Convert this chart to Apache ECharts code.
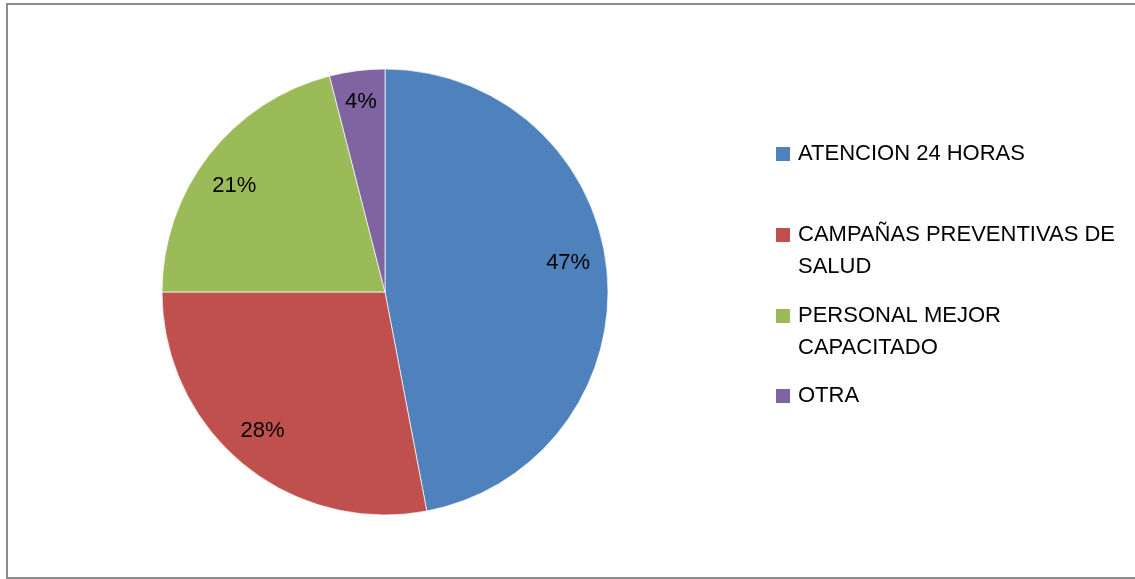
<!DOCTYPE html>
<html>
<head>
<meta charset="utf-8">
<script src="https://cdn.jsdelivr.net/npm/echarts@6/dist/echarts.min.js"></script>
<style>
html,body{margin:0;padding:0;background:#fff;}
#chart{width:1135px;height:579px;}
</style>
</head>
<body>
<div id="chart"></div>
<script>
const categories = ['ATENCION 24 HORAS', 'CAMPAÑAS PREVENTIVAS DE SALUD', 'PERSONAL MEJOR CAPACITADO', 'OTRA'];
const legendLines = ['ATENCION 24 HORAS', 'CAMPAÑAS PREVENTIVAS DE\nSALUD', 'PERSONAL MEJOR\nCAPACITADO', 'OTRA'];
const values = [47, 28, 21, 4];
const colors = ['#4F81BD', '#C0504D', '#9BBB59', '#8064A2'];

const FONT = 'Liberation Sans';
const labelShift = [[-8, -11], [0, -9], [1, 12], [0, 0]];
const legendTops = [138, 219, 300, 380];

const chart = echarts.init(document.getElementById('chart'), null, {renderer: 'canvas'});

const legends = categories.map((name, i) => {
  const two = legendLines[i].indexOf('\n') >= 0;
  return {
    show: true,
    orient: 'vertical',
    left: 776,
    top: legendTops[i],
    padding: 0,
    selectedMode: false,
    itemWidth: 14,
    itemHeight: two ? 46 : 14,
    itemStyle: {borderWidth: 0},
    data: [{
      name: name,
      icon: two ? 'path://M0,0H14V14H0Z M0,46L0.01,46' : 'rect'
    }],
    formatter: () => legendLines[i],
    textStyle: {
      fontFamily: FONT,
      fontSize: 22,
      color: '#000',
      lineHeight: 32,
      padding: [0, 0, 0, 3]
    }
  };
});

const option = {
  animation: false,
  backgroundColor: '#fff',
  color: colors,
  legend: legends,
  graphic: [{
    type: 'rect',
    silent: true,
    shape: {x: 7, y: 4, width: 1200, height: 574},
    style: {fill: 'none', stroke: '#8c8c8c', lineWidth: 2},
    z: 100
  }],
  series: [
    {
      type: 'pie',
      name: 'main',
      center: [385, 292],
      radius: [0, 223],
      startAngle: 90,
      clockwise: true,
      silent: true,
      label: {show: false},
      labelLine: {show: false},
      itemStyle: {borderColor: 'rgba(255,255,255,0.7)', borderWidth: 1},
      emphasis: {disabled: true},
      data: categories.map((n, i) => ({name: n, value: values[i]}))
    },
    {
      type: 'pie',
      name: 'labels',
      center: [385, 292],
      radius: [155, 223],
      startAngle: 90,
      clockwise: true,
      silent: true,
      itemStyle: {color: 'rgba(0,0,0,0)', borderWidth: 0},
      emphasis: {disabled: true},
      labelLine: {show: false},
      label: {
        show: true,
        position: 'inside',
        fontFamily: FONT,
        fontSize: 22,
        color: '#000',
        formatter: p => Math.round(p.percent) + '%'
      },
      labelLayout: p => ({dx: labelShift[p.dataIndex][0], dy: labelShift[p.dataIndex][1]}),
      data: categories.map((n, i) => ({name: n, value: values[i]}))
    }
  ]
};
chart.setOption(option);
</script>
</body>
</html>
